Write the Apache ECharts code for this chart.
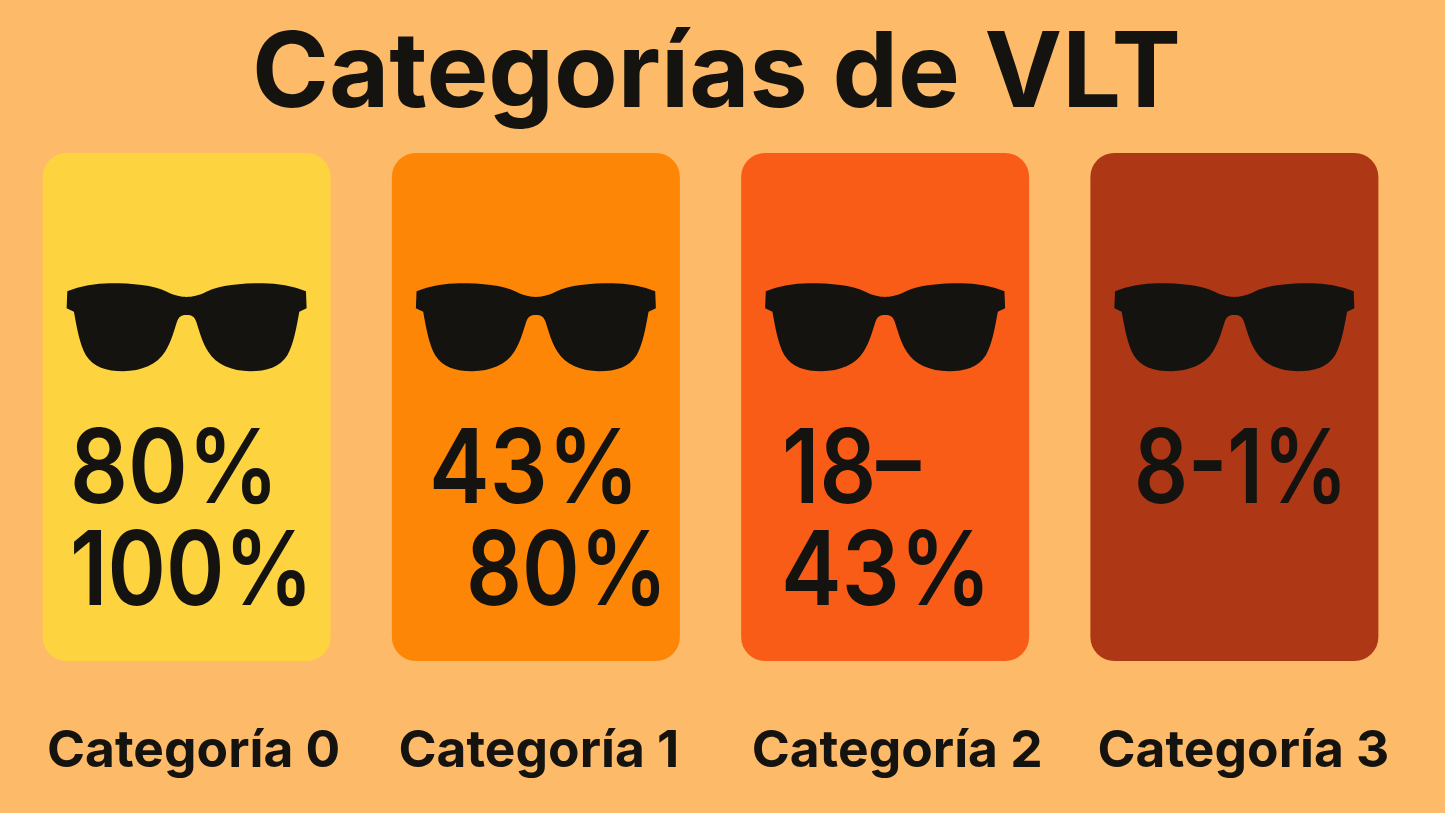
<!DOCTYPE html>
<html><head><meta charset="utf-8">
<style>html,body{margin:0;padding:0;background:#fdba68}#c{width:1445px;height:813px}</style>
<script src="https://cdn.jsdelivr.net/npm/echarts@6/dist/echarts.min.js"></script>
</head><body><div id="c"></div>
<script>
const titleText = 'Categorías de VLT';
const categories = ['Categoría 0','Categoría 1','Categoría 2','Categoría 3'];
const cardValues = [1,1,1,1];
const cardColors = ['#fdd33f','#fe8606','#f85c17','#ae3716'];
const rangeLines = [['80%','100%'],['43%','80%'],['18–','43%'],['8-1%']];
const ink = '#14130f';
const font = 'Inter, Roboto, sans-serif';
const glasses = 'path://M2 24 C40 8 90 0 130 0 C200 0 260 5 300 25 C325 38 345 41 361 41 C377 41 397 38 422 25 C462 5 522 0 592 0 C632 0 682 8 720 24 L722 75 L700 85 C692 130 682 185 664 215 C642 250 602 263 552 263 C497 263 450 243 426 205 C407 175 400 145 390 115 C384 100 377 95 361 95 C345 95 338 100 332 115 C322 145 315 175 296 205 C272 243 225 263 170 263 C120 263 80 250 58 215 C40 185 30 130 22 85 L0 75 Z';
const textPos = [[[70,524],[70,626]],[[429,524],[466,626]],[[782,524],[781,626]],[[1134,524]]];
const textScale = [[.88,.86],[.885,.85],[.86,.885],[.82]];
const labelShift = [14,6,24,18];
const chart = echarts.init(document.getElementById('c'));
chart.setOption({
  animation:false,
  backgroundColor:'#fdba68',
  title:{text:titleText,left:247,top:19,textStyle:{fontFamily:font,fontSize:104,fontWeight:700,color:ink}},
  grid:{left:12,width:1397,top:153,height:508},
  xAxis:{type:'category',data:categories.map((c,i)=>({value:c,textStyle:{padding:[0,0,0,labelShift[i]]}})),axisLine:{show:false},axisTick:{show:false},
    axisLabel:{interval:0,hideOverlap:false,margin:65,fontFamily:font,fontSize:51.5,fontWeight:700,color:ink}},
  yAxis:{type:'value',min:0,max:1,show:false},
  series:[
    {type:'bar',barWidth:288,data:cardValues.map((v,i)=>({value:v,itemStyle:{color:cardColors[i],borderRadius:24}}))},
    {type:'scatter',data:categories.map((c)=>[c,0.657]),symbol:glasses,symbolSize:[240,88],symbolKeepAspect:false,
      itemStyle:{color:ink,opacity:1},z:5}
  ],
  graphic:rangeLines.flatMap((lines,i)=>lines.map((t,j)=>({
    type:'text',x:textPos[i][j][0],y:textPos[i][j][1],z:10,scaleX:textScale[i][j],
    style:{text:t,fill:ink,font:'600 103px '+font,textVerticalAlign:'bottom'}
  })))
});
</script></body></html>
